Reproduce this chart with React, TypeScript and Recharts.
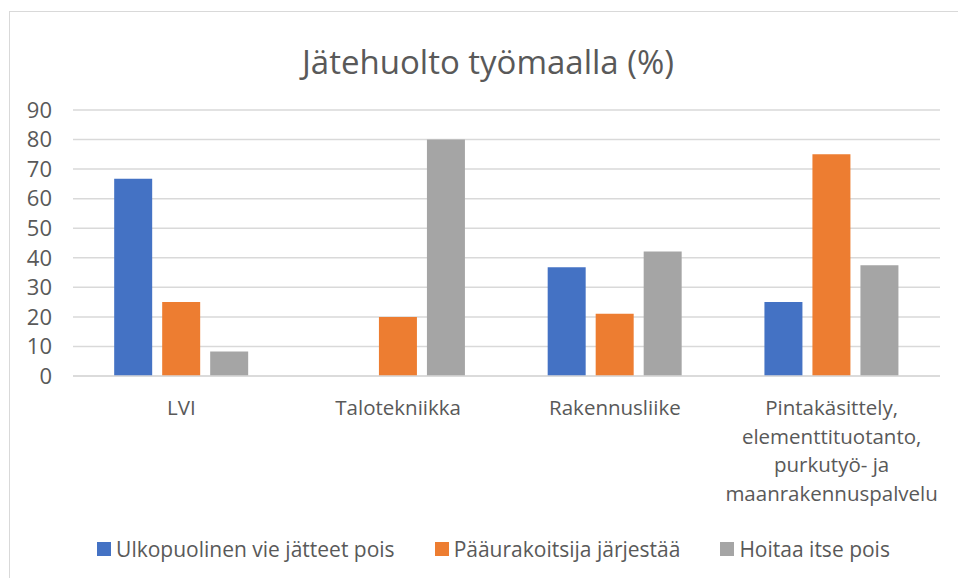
import React from 'react';
import { BarChart, Bar, XAxis, YAxis, CartesianGrid } from 'recharts';

const categories = [
  'LVI',
  'Talotekniikka',
  'Rakennusliike',
  'Pintakäsittely, elementtituotanto, purkutyö- ja maanrakennuspalvelu',
];
const ulkopuolinen = [66.7, 0, 36.8, 25];
const paaurakoitsija = [25, 20, 21.1, 75];
const hoitaaItse = [8.3, 80, 42.1, 37.5];
const yTicks = [0, 10, 20, 30, 40, 50, 60, 70, 80, 90];

const seriesNames = ['Ulkopuolinen vie jätteet pois', 'Pääurakoitsija järjestää', 'Hoitaa itse pois'];
const seriesKeys = ['a', 'b', 'c'];
const seriesColors = ['#4472C4', '#ED7D31', '#A5A5A5'];

const data = categories.map((name, i) => ({
  name,
  a: ulkopuolinen[i],
  b: paaurakoitsija[i],
  c: hoitaaItse[i],
}));

const FONT = '"Open Sans", sans-serif';
const TEXT = '#595959';

function wrap(text: string, max: number): string[] {
  const words = text.split(' ');
  const lines: string[] = [];
  let cur = '';
  for (const w of words) {
    if (!cur) cur = w;
    else if ((cur + ' ' + w).length <= max) cur = cur + ' ' + w;
    else {
      lines.push(cur);
      cur = w;
    }
  }
  if (cur) lines.push(cur);
  return lines;
}

const XTick = (props: any) => {
  const { x, y, payload } = props;
  const lines = wrap(String(payload.value), 20);
  return (
    <text x={x} y={y} textAnchor="middle" fill={TEXT} fontSize={20.5} fontFamily={FONT}>
      {lines.map((l, i) => (
        <tspan key={i} x={x} y={y + 39 + i * 28.5}>
          {l}
        </tspan>
      ))}
    </text>
  );
};

export default function App() {
  return (
    <div
      style={{
        position: 'absolute',
        left: 0,
        top: 0,
        width: 958,
        height: 578,
        background: '#fff',
        overflow: 'hidden',
        fontFamily: FONT,
      }}
    >
      <div
        style={{
          position: 'absolute',
          left: 9,
          top: 11,
          width: 1000,
          height: 700,
          border: '1px solid #d9d9d9',
        }}
      />
      <div
        style={{
          position: 'absolute',
          left: 0,
          top: 39,
          width: 976,
          textAlign: 'center',
          fontSize: 33,
          color: TEXT,
          lineHeight: '46px',
        }}
      >
        Jätehuolto työmaalla (%)
      </div>
      <div style={{ position: 'absolute', left: 0, top: 0 }}>
        <BarChart
          width={958}
          height={578}
          data={data}
          margin={{ top: 110, right: 18, bottom: 32, left: 13 }}
          barCategoryGap="19%"
          barGap={10}
        >
          <CartesianGrid vertical={false} stroke="#d9d9d9" strokeWidth={1.5} />
          <XAxis
            dataKey="name"
            height={170}
            axisLine={{ stroke: '#d9d9d9', strokeWidth: 1.5 }}
            tickLine={false}
            tickSize={0}
            tickMargin={0}
            interval={0}
            tick={<XTick />}
          />
          <YAxis
            width={60}
            domain={[0, 90]}
            ticks={yTicks}
            axisLine={false}
            tickLine={false}
            tickSize={0}
            tickMargin={21}
            interval={0}
            tick={{ fill: TEXT, fontSize: 22, fontFamily: FONT }}
          />
          {seriesKeys.map((k, i) => (
            <Bar key={k} dataKey={k} fill={seriesColors[i]} isAnimationActive={false} />
          ))}
        </BarChart>
      </div>
      <div
        style={{
          position: 'absolute',
          left: 0,
          top: 535,
          width: 987,
          display: 'flex',
          justifyContent: 'center',
          alignItems: 'center',
          fontSize: 21,
          color: TEXT,
          lineHeight: '28px',
        }}
      >
        {seriesNames.map((n, i) => (
          <div key={n} style={{ display: 'flex', alignItems: 'center', marginRight: i < 2 ? 40 : 0 }}>
            <span
              style={{
                display: 'inline-block',
                width: 14,
                height: 14,
                background: seriesColors[i],
                marginRight: 5,
              }}
            />
            <span>{n}</span>
          </div>
        ))}
      </div>
    </div>
  );
}
